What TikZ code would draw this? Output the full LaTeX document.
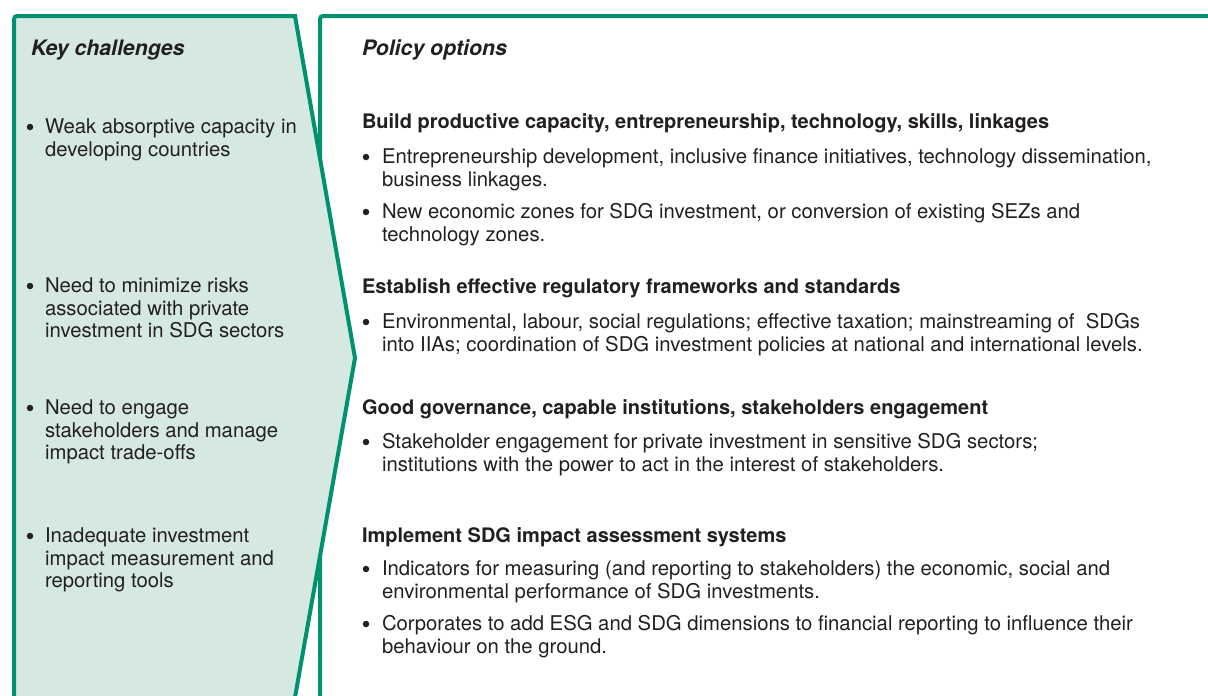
\documentclass[tikz,border=0pt]{standalone}
\usepackage{fontspec}
\setmainfont{TeX Gyre Heros}
\definecolor{ungreen}{RGB}{0,146,110}
\definecolor{unfill}{RGB}{213,233,226}
\definecolor{untext}{RGB}{35,31,32}
\begin{document}
\begin{tikzpicture}[x=1pt,y=-1pt,
  txt/.style={anchor=base west,inner sep=0pt,outer sep=0pt,text=untext,font=\fontsize{20.3}{24}\selectfont},
  head/.style={txt,font=\fontsize{20}{24}\selectfont\bfseries},
  ttl/.style={txt,font=\fontsize{21.3}{24}\selectfont\bfseries\itshape},
  dot/.style={circle,fill=untext,inner sep=0pt,minimum size=6.5pt},
  frame/.style={draw=ungreen,line width=4pt,line join=miter}]
\useasboundingbox (0,0) rectangle (1208,696);
% right panel
\draw[frame,fill=white,rounded corners=3pt] (320,720) -- (320,16) -- (1230,16);
% left arrow panel
\draw[frame,fill=unfill] (14,720) [rounded corners=3pt] -- (14,16) [rounded corners=0pt] -- (295,16) -- (355,358) -- (291,720);
% left texts
\node[ttl] (kc) at (31,55) {Key challenges};
\node[dot] (b1) at (30,127) {};
\node[txt] (l1a) at (45,133) {Weak absorptive capacity in};
\node[txt] (l1b) at (45,156) {developing countries};
\node[dot] (b2) at (30,286) {};
\node[txt] (l2a) at (45,292) {Need to minimize risks};
\node[txt] (l2b) at (45,315) {associated with private};
\node[txt] (l2c) at (45,337) {investment in SDG sectors};
\node[dot] (b3) at (30,408) {};
\node[txt] (l3a) at (45,414) {Need to engage};
\node[txt] (l3b) at (45,437) {stakeholders and manage};
\node[txt] (l3c) at (45,459) {impact trade-offs};
\node[dot] (b4) at (30,536) {};
\node[txt] (l4a) at (45,542) {Inadequate investment};
\node[txt] (l4b) at (45,565) {impact measurement and};
\node[txt] (l4c) at (45,587) {reporting tools};
% right texts
\node[ttl] (po) at (362,55) {Policy options};
\node[head] (h1) at (362,128) {Build productive capacity, entrepreneurship, technology, skills, linkages};
\node[dot] (r1) at (366,157) {};
\node[txt] (r1a) at (382,163) {Entrepreneurship development, inclusive finance initiatives, technology dissemination,};
\node[txt] (r1b) at (382,186) {business linkages.};
\node[dot] (r2) at (366,212) {};
\node[txt] (r2a) at (382,218) {New economic zones for SDG investment, or conversion of existing SEZs and};
\node[txt] (r2b) at (382,241) {technology zones.};
\node[head] (h2) at (362,293) {Establish effective regulatory frameworks and standards};
\node[dot] (r3) at (366,322) {};
\node[txt] (r3a) at (382,328) {Environmental, labour, social regulations; effective taxation; mainstreaming of\ \ SDGs};
\node[txt] (r3b) at (382,351) {into IIAs; coordination of SDG investment policies at national and international levels.};
\node[head] (h3) at (362,414) {Good governance, capable institutions, stakeholders engagement};
\node[dot] (r4) at (366,442) {};
\node[txt] (r4a) at (382,448) {Stakeholder engagement for private investment in sensitive SDG sectors;};
\node[txt] (r4b) at (382,471) {institutions with the power to act in the interest of stakeholders.};
\node[head] (h4) at (362,542) {Implement SDG impact assessment systems};
\node[dot] (r5) at (366,569) {};
\node[txt] (r5a) at (382,575) {Indicators for measuring (and reporting to stakeholders) the economic, social and};
\node[txt] (r5b) at (382,598) {environmental performance of SDG investments.};
\node[dot] (r6) at (366,624) {};
\node[txt] (r6a) at (382,630) {Corporates to add ESG and SDG dimensions to financial reporting to influence their};
\node[txt] (r6b) at (382,653) {behaviour on the ground.};
\end{tikzpicture}
\end{document}
